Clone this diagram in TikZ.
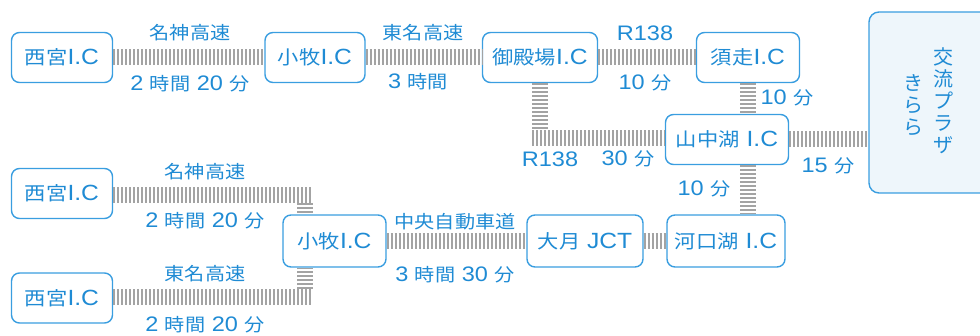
\documentclass[tikz,border=0pt]{standalone}
\usepackage{graphicx}
\usepackage{fontspec}
\setmainfont{Noto Sans CJK JP}
\newfontfamily\latfont{Liberation Sans}
\usetikzlibrary{calc}
\definecolor{txtblue}{HTML}{1F8BD4}
\definecolor{bdblue}{HTML}{3A9EE0}
\definecolor{plazafill}{HTML}{EEF6FB}
\definecolor{railgray}{HTML}{A3A3A3}
\newcommand\hst[1]{\scalebox{1.12}[1]{#1}}
\newcommand\LN[1]{{\latfont\fontsize{22}{24}\selectfont #1}}
\newcommand\LL[1]{{\latfont\fontsize{21}{23}\selectfont #1}}
\tikzset{
  ic/.style={draw=bdblue, line width=1.4pt, rounded corners=8pt, fill=white,
    minimum height=50pt, inner sep=0pt, text=txtblue, font=\fontsize{19}{21}\selectfont},
  lbl/.style={text=txtblue, inner sep=0pt, font=\fontsize{18}{20}\selectfont},
  vtext/.style={text=txtblue, inner sep=0pt, align=center, font=\fontsize{20}{22}\selectfont},
  rail/.style={draw=railgray, line width=16pt, dash pattern=on 2pt off 2pt},
}
\begin{document}
\begin{tikzpicture}[x=1pt,y=-1pt]
\clip (0,0) rectangle (980,336);
\useasboundingbox (0,0) rectangle (980,336);
% nodes
\node[ic, minimum width=101pt] (nis1) at (62,57.5) {\hst{西宮\LN{I.C}}};
\node[ic, minimum width=100pt] (kom1) at (315,57.5) {\hst{小牧\LN{I.C}}};
\node[ic, minimum width=115pt] (got) at (540,57.5) {\hst{御殿場\LN{I.C}}};
\node[ic, minimum width=103pt] (sus) at (748,57.5) {\hst{須走\LN{I.C}}};
\node[ic, minimum width=123pt] (yam) at (727,139.5) {\hst{山中湖\LN{ I.C}}};
\node[ic, minimum width=101pt] (nis2) at (62,193.5) {\hst{西宮\LN{I.C}}};
\node[ic, minimum width=101pt] (nis3) at (62,298) {\hst{西宮\LN{I.C}}};
\node[ic, minimum width=103pt, minimum height=52pt] (kmk2) at (334.5,241) {\hst{小牧\LN{I.C}}};
\node[ic, minimum width=116pt, minimum height=52pt] (oot) at (585,241) {\hst{大月\LN{ JCT}}};
\node[ic, minimum width=118pt, minimum height=52pt] (kaw) at (726,241) {\hst{河口湖\LN{ I.C}}};
\node[draw=bdblue, line width=1.4pt, rounded corners=10pt, fill=plazafill,
  minimum width=150pt, minimum height=181pt, inner sep=0pt] (plaza) at (944,102.5) {};
\node[vtext] (plazaA) at (943,101) {交\\流\\プ\\ラ\\ザ};
\node[vtext] (plazaB) at (913,105) {き\\ら\\ら};
% rails top row
\draw[rail] (nis1.east) -- (kom1.west);
\draw[rail] (kom1.east) -- (got.west);
\draw[rail] (got.east) -- (sus.west);
\coordinate (c2) at (540,138);
\draw[rail] (got.south) -- ($(c2)+(0,-8)$);
\draw[rail] ($(c2)+(-8,0)$) -- (yam.west |- c2);
\draw[rail] (sus.south) -- (sus.south |- yam.north);
\draw[rail] (yam.east) -- (plaza.west |- yam.east);
\draw[rail] (sus.south |- yam.south) -- (sus.south |- kaw.north);
\draw[rail] (oot.east) -- (kaw.west);
\draw[rail] (kmk2.east) -- (oot.west);
% lower left rails
\coordinate (c1) at (305,195);
\draw[rail] (nis2.east |- c1) -- ($(c1)+(8,0)$);
\draw[rail] ($(c1)+(0,8)$) -- (c1 |- kmk2.north);
\coordinate (c3) at (305,297.5);
\draw[rail] (nis3.east |- c3) -- ($(c3)+(8,0)$);
\draw[rail] ($(c3)+(0,-8)$) -- (c3 |- kmk2.south);
% labels
\node[lbl] (l1a) at (190,33) {\hst{名神高速}};
\node[lbl] (l1b) at (190,84) {\hst{\LL{2 }時間\LL{ 20 }分}};
\node[lbl] (l2a) at (423,33) {\hst{東名高速}};
\node[lbl] (l2b) at (418,82) {\hst{\LL{3 }時間}};
\node[lbl] (l3a) at (645,33) {\hst{\LL{R138}}};
\node[lbl] (l3b) at (645,83) {\hst{\LL{10 }分}};
\node[lbl] (l4) at (787,98) {\hst{\LL{10 }分}};
\node[lbl] (l5a) at (550,159) {\hst{\LL{R138}}};
\node[lbl] (l5b) at (628,159) {\hst{\LL{30 }分}};
\node[lbl] (l6) at (828,166) {\hst{\LL{15 }分}};
\node[lbl] (l7) at (704,189) {\hst{\LL{10 }分}};
\node[lbl] (l8a) at (205,172) {\hst{名神高速}};
\node[lbl] (l8b) at (205,221) {\hst{\LL{2 }時間\LL{ 20 }分}};
\node[lbl] (l9a) at (205,274) {\hst{東名高速}};
\node[lbl] (l9b) at (205,325) {\hst{\LL{2 }時間\LL{ 20 }分}};
\node[lbl] (l10a) at (455,222) {\hst{中央自動車道}};
\node[lbl] (l10b) at (455,275) {\hst{\LL{3 }時間\LL{ 30 }分}};
\end{tikzpicture}
\end{document}
